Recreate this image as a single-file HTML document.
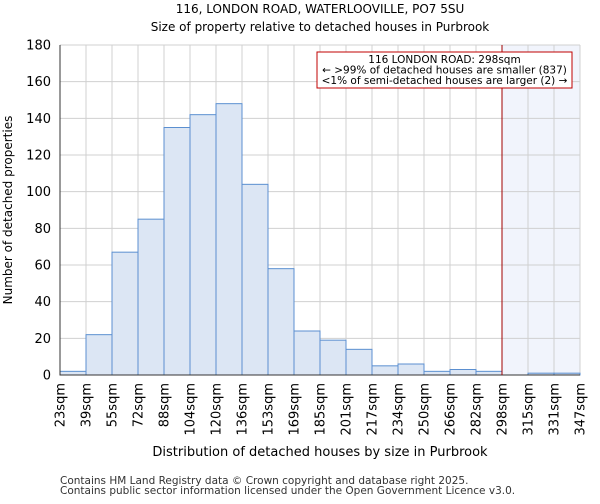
<!DOCTYPE html>
<html><head><meta charset="utf-8"><style>
body{margin:0;background:#fff;font-family:"DejaVu Sans","Liberation Sans",sans-serif;}
</style></head><body>
<svg id="chart" width="600" height="500" xmlns="http://www.w3.org/2000/svg" font-family="DejaVu Sans, Liberation Sans, sans-serif">
<text x="320" y="13" font-size="12" text-anchor="middle">116, LONDON ROAD, WATERLOOVILLE, PO7 5SU</text>
<text x="320" y="31" font-size="12" text-anchor="middle">Size of property relative to detached houses in Purbrook</text>
<g id="grid"></g><g id="bars"></g><g id="axes"></g>
<text x="320" y="456" font-size="13" text-anchor="middle">Distribution of detached houses by size in Purbrook</text>
<text transform="translate(12,210) rotate(-90)" font-size="12" text-anchor="middle">Number of detached properties</text>
<text x="60" y="484" font-size="10.5" fill="#333">Contains HM Land Registry data © Crown copyright and database right 2025.</text>
<text x="60" y="494" font-size="10.5" fill="#333">Contains public sector information licensed under the Open Government Licence v3.0.</text>
</svg>
<script>
const binLabels=["23sqm","39sqm","55sqm","72sqm","88sqm","104sqm","120sqm","136sqm","153sqm","169sqm","185sqm","201sqm","217sqm","234sqm","250sqm","266sqm","282sqm","298sqm","315sqm","331sqm","347sqm"];
const counts=[2,22,67,85,135,142,148,104,58,24,19,14,5,6,2,3,2,0,1,1];
const yTicks=[0,20,40,60,80,100,120,140,160,180];
const markerBin=17;
const NS="http://www.w3.org/2000/svg";
const L=60,R=580,T=45,B=375,yMax=180;
const bw=(R-L)/counts.length;
const xs=i=>L+i*bw, ys=v=>B-(v/yMax)*(B-T);
function mk(p,tag,at){const e=document.createElementNS(NS,tag);for(const k in at)e.setAttribute(k,at[k]);p.appendChild(e);return e;}
const grid=document.getElementById('grid'),bars=document.getElementById('bars'),axes=document.getElementById('axes');
const hl=mk(grid,'rect',{x:xs(markerBin),y:T,width:R-xs(markerBin),height:B-T,fill:'#f1f4fc'});


yTicks.forEach(t=>{
 const g=mk(grid,'line',{x1:L,x2:R,y1:ys(t),y2:ys(t),stroke:'#d0d0d0','stroke-width':1});
 
 
 const tx=mk(axes,'text',{x:L-9,y:ys(t)+4.5,'font-size':13,'text-anchor':'end'});tx.textContent=t;
 
 
});
binLabels.forEach((lb,i)=>{
 const g=mk(grid,'line',{x1:xs(i),x2:xs(i),y1:T,y2:B,stroke:'#d0d0d0','stroke-width':1});
 
 
 const x=xs(i)+4.5;
 const tx=mk(axes,'text',{transform:`translate(${x},${B+8}) rotate(-90)`,'font-size':13,'text-anchor':'end'});tx.textContent=lb;
 
 
});
counts.forEach((c,i)=>{
 const r=mk(bars,'rect',{x:xs(i),y:ys(c),width:bw,height:B-ys(c),fill:'#dce6f4',stroke:'#5b8fd0','stroke-width':1});
 
 
});
const ax=mk(axes,'path',{d:`M${L},${T}V${B}H${R}`,fill:'none',stroke:'#333','stroke-width':1});


const ml=mk(axes,'line',{x1:xs(markerBin),x2:xs(markerBin),y1:T,y2:B,stroke:'#a00000','stroke-width':1});


const box=mk(axes,'rect',{x:317,y:52,width:255,height:36,fill:'#fff',stroke:'#c00000','stroke-width':1});


["116 LONDON ROAD: 298sqm","← >99% of detached houses are smaller (837)","<1% of semi-detached houses are larger (2) →"].forEach((s,i)=>{
 const t=mk(axes,'text',{x:444.5,y:63+i*10.5,'font-size':10.5,'text-anchor':'middle'});t.textContent=s;
 
 
});
</script>
</body></html>
